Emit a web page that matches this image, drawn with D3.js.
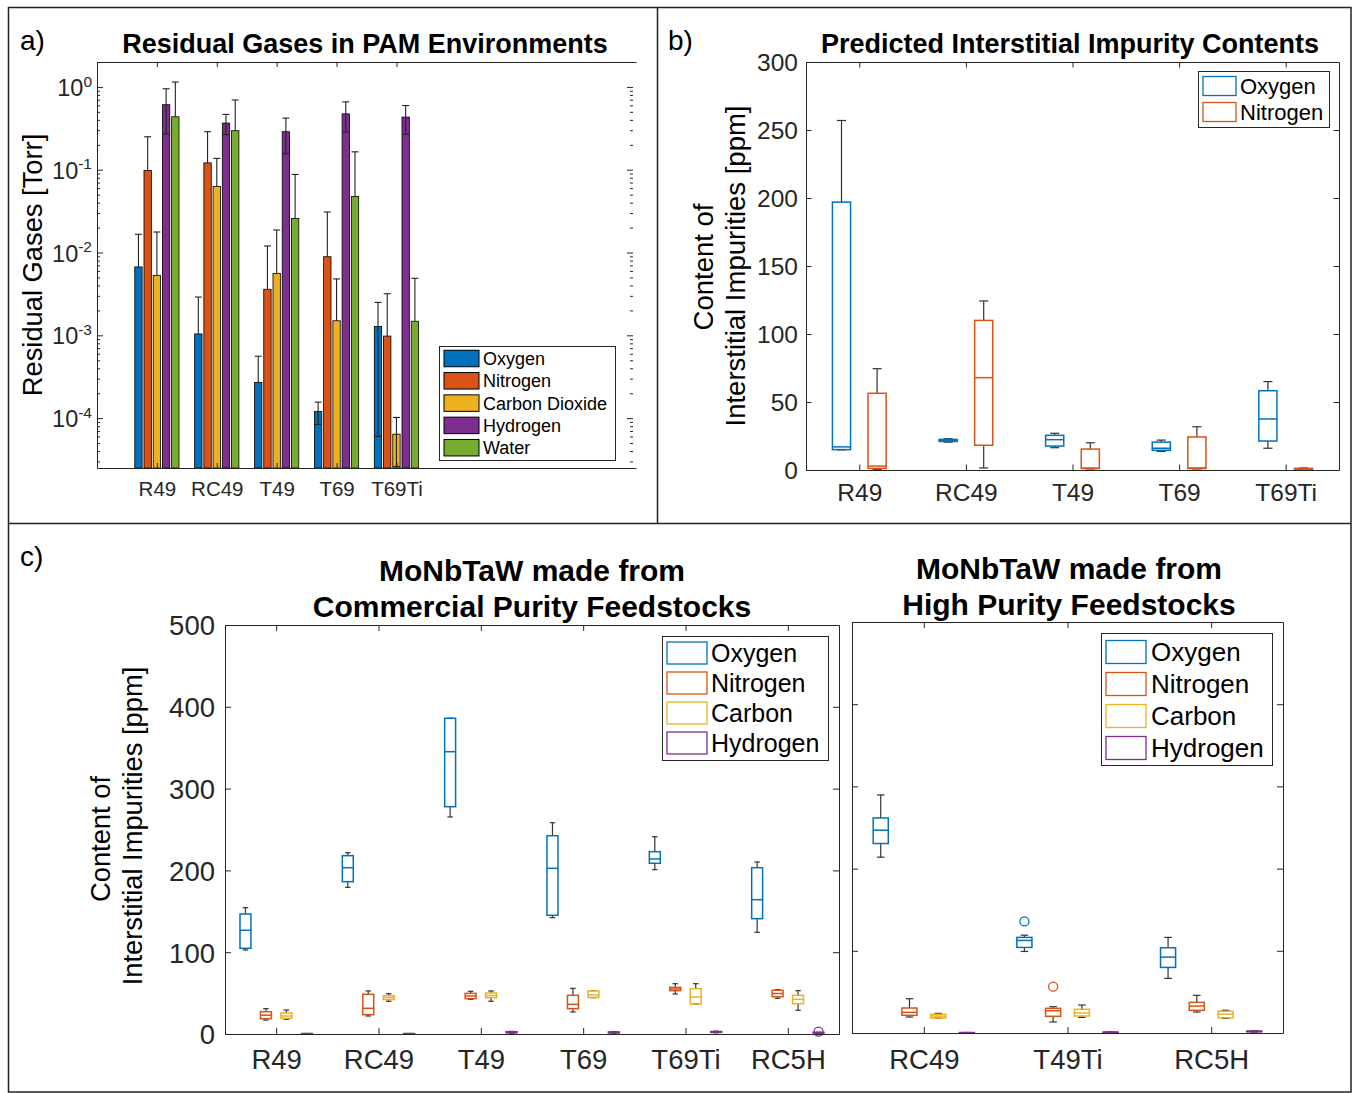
<!DOCTYPE html>
<html>
<head>
<meta charset="utf-8">
<script src="https://cdn.jsdelivr.net/npm/d3@7"></script>
<style>
  body { margin: 0; background: #fff; }
  svg { display: block; }
</style>
</head>
<body>
<svg id="fig" width="1356" height="1093"></svg>
<script>
// ---------- data: panel a (residual gases, Torr) ----------
var pamCategories = ["R49", "RC49", "T49", "T69", "T69Ti"];
var gasNames = ["Oxygen", "Nitrogen", "Carbon Dioxide", "Hydrogen", "Water"];
var gasOxygen   = [6.7e-3, 1.04e-3, 2.7e-4, 1.2e-4, 1.28e-3];
var gasNitrogen = [0.098, 0.121, 3.6e-3, 8.9e-3, 9.8e-4];
var gasCO2      = [5.3e-3, 0.063, 5.6e-3, 1.5e-3, 6.4e-5];
var gasHydrogen = [0.61, 0.366, 0.288, 0.473, 0.432];
var gasWater    = [0.436, 0.296, 0.0257, 0.0475, 1.48e-3];
var errOxygen   = [9.9e-3, 1.86e-3, 2.9e-4, 3.6e-5, 1.22e-3];
var errNitrogen = [0.152, 0.167, 8.4e-3, 0.022, 2.2e-3];
var errCO2      = [0.0124, 0.074, 0.0131, 3.3e-3, 3.8e-5];
var errHydrogen = [0.34, 0.10, 0.132, 0.187, 0.164];
var errWater    = [0.71, 0.40, 0.062, 0.117, 3.4e-3];

// ---------- data: panel b (predicted, ppm) [min, q1, median, q3, max] ----------
var predCategories = ["R49", "RC49", "T49", "T69", "T69Ti"];
var predNames = ["Oxygen", "Nitrogen"];
var predOxygen = [[14.8, 15, 17, 197, 257], [20.5, 21, 21.7, 22.5, 23], [16.4, 17.6, 22.3, 25.5, 27],
                  [13.7, 14.5, 16, 20.5, 22], [16, 21.3, 37.5, 58.3, 65]];
var predNitrogen = [[0.5, 1.2, 2.9, 56.4, 74.5], [1.5, 18.2, 67.9, 110, 124.3], [0.8, 1.1, 1.4, 15.4, 20],
                    [0.8, 1.1, 1.5, 24.3, 31.8], [0.3, 0.5, 0.8, 1.2, 1.5]];

// ---------- data: panel c (measured, ppm) [min, q1, median, q3, max] ----------
var elemNames = ["Oxygen", "Nitrogen", "Carbon", "Hydrogen"];
var commCategories = ["R49", "RC49", "T49", "T69", "T69Ti", "RC5H"];
var commOxygen = [[102.7, 104.8, 126.8, 146.7, 154.4], [179.3, 186.2, 203.3, 218, 221.6], [265.3, 277.9, 345.1, 386, 386],
                  [142.2, 145.1, 202.5, 242.4, 258.3], [200.9, 208.7, 214, 222.9, 241.2], [124.3, 141, 164.2, 203.3, 210.3]];
var commNitrogen = [[17, 18.7, 23, 27.3, 31], [22, 23.6, 31.4, 48.5, 52.6], [42.4, 43.2, 46.5, 49.7, 52.2],
                    [26.9, 31, 36.3, 47.3, 55.8], [48.9, 53, 55, 57, 61.5], [43.6, 45.6, 49.5, 53.4, 54.2]];
var commCarbon = [[18, 19.2, 22, 25.7, 29.3], [40, 42, 44.6, 46.8, 49.3], [40, 44.4, 47, 50.1, 52.6],
                  [44.4, 44.8, 47.7, 52.6, 53], [36.7, 36.7, 45.2, 55.4, 61.5], [29, 37, 42.4, 47.3, 53]];
var commHydrogen = [[0.2, 0.3, 0.4, 0.5, 0.6], [0.2, 0.3, 0.4, 0.5, 0.6], [1, 1.5, 2, 2.8, 3.2],
                    [1, 1.3, 1.8, 2.5, 3], [1.5, 2, 2.5, 3, 3.5], [1, 1.3, 1.6, 2, 2.2]];
var commHydrogenOut = [[6, 2.8]];

var highCategories = ["RC49", "T49Ti", "RC5H"];
var highOxygen = [[213.9, 230.5, 246.7, 261.6, 289.6], [99.2, 104.1, 112.6, 116.3, 119], [66.4, 79.8, 92.3, 103.7, 116.3]];
var highOxygenOut = [[2, 135.7]];
var highNitrogen = [[19.4, 21.5, 25.1, 30.4, 41.7], [13.4, 20.3, 27.1, 30, 32], [25.5, 27.6, 32.8, 37.3, 45.8]];
var highNitrogenOut = [[2, 56.3]];
var highCarbon = [[18.2, 18.2, 20.6, 22.7, 23.9], [19, 20.7, 24.3, 28.8, 34], [17.9, 18.6, 23, 26.4, 27.6]];
var highHydrogen = [[0.2, 0.3, 0.4, 0.5, 0.6], [0.5, 0.7, 0.9, 1.1, 1.3], [1.2, 1.5, 1.9, 2.3, 2.6]];

var predTicks = [0, 50, 100, 150, 200, 250, 300];
var commTicks = [0, 100, 200, 300, 400, 500];
var decadeTicks = [1e-4, 1e-3, 1e-2, 1e-1, 1];

// ---------- style ----------
var fontFamily = "'Liberation Sans', Arial, Helvetica, sans-serif";
var colors = ["#0072BD", "#D95319", "#EDB120", "#7E2F8E", "#77AC30"];
var axisColor = "#262626";

var svg = d3.select("#fig").attr("font-family", fontFamily);

function styleAxis(sel, fontSize) {
    sel.attr("font-family", fontFamily).attr("font-size", fontSize);
    sel.selectAll("path.domain").attr("stroke", axisColor).attr("stroke-width", 1);
    sel.selectAll(".tick line").attr("stroke", axisColor).attr("stroke-width", 1);
    sel.selectAll(".tick text").attr("fill", axisColor);
    return sel;
}

// common frame for the linear box plot axes
function drawLinearFrame(g, xs, ys, cats, yTicks, o) {
    var x0 = xs.range()[0], x1 = xs.range()[1];
    var y0 = ys.range()[0], y1 = ys.range()[1];
    var catVals = cats.map(function (c, i) { return i + 1; });

    var bottom = g.append("g").attr("transform", "translate(0," + y0 + ")")
        .call(d3.axisBottom(xs).tickValues(catVals).tickSizeInner(-o.tick).tickSizeOuter(0)
            .tickFormat(function (d) { return cats[d - 1]; }));
    styleAxis(bottom, o.font);
    bottom.selectAll(".tick text").attr("y", o.xLabelOffset).attr("dy", "0.36em");

    var top = g.append("g").attr("transform", "translate(0," + y1 + ")")
        .call(d3.axisTop(xs).tickValues(catVals).tickSizeInner(-o.tick).tickSizeOuter(0).tickFormat(""));
    styleAxis(top, o.font);

    var left = g.append("g").attr("transform", "translate(" + x0 + ",0)")
        .call(d3.axisLeft(ys).tickValues(yTicks).tickSizeInner(-o.tick).tickSizeOuter(0)
            .tickPadding(o.yPad).tickFormat(o.showY ? d3.format("d") : ""));
    styleAxis(left, o.font);
    left.selectAll(".tick text").attr("dy", "0.36em");

    var right = g.append("g").attr("transform", "translate(" + x1 + ",0)")
        .call(d3.axisRight(ys).tickValues(yTicks).tickSizeInner(-o.tick).tickSizeOuter(0).tickFormat(""));
    styleAxis(right, o.font);
}

function drawBoxSeries(g, xs, ys, stats, offset, widthUnits, color, outliers) {
    var w = widthUnits * (xs(1) - xs(0));
    var grp = g.append("g");
    var cx = function (d, i) { return xs(i + 1 + offset); };

    // whiskers and caps
    grp.selectAll("line.whi").data(stats).join("line").attr("class", "whi")
        .attr("x1", cx).attr("x2", cx)
        .attr("y1", function (d) { return ys(d[3]); })
        .attr("y2", function (d) { return ys(d[4]); });
    grp.selectAll("line.wlo").data(stats).join("line").attr("class", "wlo")
        .attr("x1", cx).attr("x2", cx)
        .attr("y1", function (d) { return ys(d[1]); })
        .attr("y2", function (d) { return ys(d[0]); });
    grp.selectAll("line.chi").data(stats).join("line").attr("class", "chi")
        .attr("x1", function (d, i) { return cx(d, i) - w / 4; })
        .attr("x2", function (d, i) { return cx(d, i) + w / 4; })
        .attr("y1", function (d) { return ys(d[4]); })
        .attr("y2", function (d) { return ys(d[4]); });
    grp.selectAll("line.clo").data(stats).join("line").attr("class", "clo")
        .attr("x1", function (d, i) { return cx(d, i) - w / 4; })
        .attr("x2", function (d, i) { return cx(d, i) + w / 4; })
        .attr("y1", function (d) { return ys(d[0]); })
        .attr("y2", function (d) { return ys(d[0]); });
    grp.selectAll("line").attr("stroke", "#333").attr("stroke-width", 1.2);

    // box
    grp.selectAll("rect").data(stats).join("rect")
        .attr("x", function (d, i) { return cx(d, i) - w / 2; })
        .attr("width", w)
        .attr("y", function (d) { return ys(d[3]); })
        .attr("height", function (d) { return Math.max(0.5, ys(d[1]) - ys(d[3])); })
        .attr("fill", "none").attr("stroke", color).attr("stroke-width", 1.5);

    // median
    grp.selectAll("line.med").data(stats).join("line").attr("class", "med")
        .attr("x1", function (d, i) { return cx(d, i) - w / 2; })
        .attr("x2", function (d, i) { return cx(d, i) + w / 2; })
        .attr("y1", function (d) { return ys(d[2]); })
        .attr("y2", function (d) { return ys(d[2]); })
        .attr("stroke", color).attr("stroke-width", 1.5);

    if (outliers) {
        grp.selectAll("circle").data(outliers).join("circle")
            .attr("cx", function (d) { return xs(d[0] + offset); })
            .attr("cy", function (d) { return ys(d[1]); })
            .attr("r", 4.5)
            .attr("fill", "none").attr("stroke", color).attr("stroke-width", 1.3);
    }
}

function drawLegend(g, o) {
    var lg = g.append("g");
    lg.append("rect").attr("x", o.x).attr("y", o.y).attr("width", o.w).attr("height", o.h)
        .attr("fill", "#fff").attr("stroke", axisColor).attr("stroke-width", 1);
    var items = lg.selectAll("g.item").data(o.names).join("g").attr("class", "item")
        .attr("transform", function (d, i) { return "translate(0," + (o.firstRow + i * o.rowStep) + ")"; });
    items.append("rect")
        .attr("x", o.swX).attr("y", -o.swH / 2).attr("width", o.swW).attr("height", o.swH)
        .attr("fill", function (d, i) { return o.filled ? colors[i] : "none"; })
        .attr("stroke", function (d, i) { return o.filled ? "#000" : colors[i]; })
        .attr("stroke-width", o.filled ? 1 : 1.3);
    items.append("text")
        .attr("x", o.textX).attr("dy", "0.36em")
        .attr("font-size", o.font).attr("fill", "#000")
        .text(function (d) { return d; });
}

function addText(g, txt, x, y, size, opts) {
    opts = opts || {};
    var t = g.append("text").attr("x", x).attr("y", y)
        .attr("font-size", size).attr("fill", "#000")
        .attr("text-anchor", opts.anchor || "middle")
        .attr("dy", "0.36em")
        .text(txt);
    if (opts.bold) t.attr("font-weight", "bold");
    if (opts.rotate) t.attr("transform", "rotate(-90," + x + "," + y + ")");
    return t;
}

// ---------- figure frame ----------
var frame = svg.append("g").attr("fill", "none").attr("stroke", "#222").attr("stroke-width", 1.5);
frame.append("rect").attr("x", 8.5).attr("y", 7.5).attr("width", 1342.5).attr("height", 1084.5);
frame.append("line").attr("x1", 657.5).attr("x2", 657.5).attr("y1", 7.5).attr("y2", 523.5);
frame.append("line").attr("x1", 8.5).attr("x2", 1351).attr("y1", 523.5).attr("y2", 523.5);

addText(svg, "a)", 20, 40, 28, { anchor: "start" });
addText(svg, "b)", 668, 40, 28, { anchor: "start" });
addText(svg, "c)", 20, 556, 28, { anchor: "start" });

// ---------- panel a ----------
var gA = svg.append("g");
var xA = d3.scaleLinear().domain([0, 9]).range([97, 636]);
var yA = d3.scaleLog().domain([2.5e-5, 2]).range([468, 62]);
var barOffsets = [-0.308, -0.154, 0, 0.154, 0.308];
var barWidth = 0.123;
var gasValues = [gasOxygen, gasNitrogen, gasCO2, gasHydrogen, gasWater];
var gasErrors = [errOxygen, errNitrogen, errCO2, errHydrogen, errWater];
var gasSeries = gasNames.map(function (n, k) {
    return gasValues[k].map(function (v, i) {
        return { i: i, v: v, e: gasErrors[k][i], k: k };
    });
});

gasSeries.forEach(function (s, k) {
    gA.append("g").selectAll("rect").data(s).join("rect")
        .attr("x", function (d) { return xA(d.i + 1 + barOffsets[k] - barWidth / 2); })
        .attr("width", xA(barWidth) - xA(0))
        .attr("y", function (d) { return yA(d.v); })
        .attr("height", function (d) { return yA.range()[0] - yA(d.v); })
        .attr("fill", colors[k]).attr("stroke", "#000").attr("stroke-width", 0.8);
});

var errG = gA.append("g").attr("stroke", "#222").attr("stroke-width", 1.1);
gasSeries.forEach(function (s, k) {
    s.forEach(function (d) {
        var cx = xA(d.i + 1 + barOffsets[k]);
        var lo = d.v - d.e;
        var yTop = yA(d.v + d.e);
        var yBot = lo > 0 ? yA(Math.max(lo, yA.domain()[0])) : yA(d.v);
        errG.append("line").attr("x1", cx).attr("x2", cx).attr("y1", yTop).attr("y2", yBot);
        errG.append("line").attr("x1", cx - 3.5).attr("x2", cx + 3.5).attr("y1", yTop).attr("y2", yTop);
        if (lo > yA.domain()[0]) {
            errG.append("line").attr("x1", cx - 3.5).attr("x2", cx + 3.5).attr("y1", yBot).attr("y2", yBot);
        }
    });
});

var catA = pamCategories.map(function (c, i) { return i + 1; });
var axBA = gA.append("g").attr("transform", "translate(0,468)")
    .call(d3.axisBottom(xA).tickValues(catA).tickSizeInner(-5).tickSizeOuter(0)
        .tickFormat(function (d) { return pamCategories[d - 1]; }));
styleAxis(axBA, 20.5);
axBA.selectAll(".tick text").attr("y", 21).attr("dy", "0.36em");

var axTA = gA.append("g").attr("transform", "translate(0,62)")
    .call(d3.axisTop(xA).tickValues(catA).tickSizeInner(-5).tickSizeOuter(0).tickFormat(""));
styleAxis(axTA, 20);

var minorA = yA.ticks().filter(function (v) {
    return decadeTicks.indexOf(v) < 0 && Math.abs(Math.log10(v) - Math.round(Math.log10(v))) > 1e-6;
});

var axLA = gA.append("g").attr("transform", "translate(97,0)")
    .call(d3.axisLeft(yA).tickValues(decadeTicks).tickSizeInner(-6).tickSizeOuter(0).tickPadding(5)
        .tickFormat(function () { return ""; }));
styleAxis(axLA, 23.5);
axLA.selectAll(".tick text").each(function (d) {
    var t = d3.select(this).attr("dy", "0.36em");
    t.append("tspan").text("10");
    t.append("tspan").attr("dy", "-0.6em").attr("font-size", "0.66em").text(Math.round(Math.log10(d)));
});
var axLAm = gA.append("g").attr("transform", "translate(97,0)")
    .call(d3.axisLeft(yA).tickValues(minorA).tickSizeInner(-3).tickSizeOuter(0).tickFormat(""));
styleAxis(axLAm, 20);
axLAm.select("path.domain").remove();

var axRA = gA.append("g").attr("transform", "translate(633,0)")
    .call(d3.axisRight(yA).tickValues(decadeTicks).tickSizeInner(-6).tickSizeOuter(0).tickFormat(""));
styleAxis(axRA, 20);
axRA.select("path.domain").remove();
var axRAm = gA.append("g").attr("transform", "translate(633,0)")
    .call(d3.axisRight(yA).tickValues(minorA).tickSizeInner(-3).tickSizeOuter(0).tickFormat(""));
styleAxis(axRAm, 20);
axRAm.select("path.domain").remove();

addText(gA, "Residual Gases in PAM Environments", 365, 43, 27, { bold: true });
addText(gA, "Residual Gases [Torr]", 32, 265, 27.3, { rotate: true });

drawLegend(gA, {
    x: 439.5, y: 346.5, w: 176, h: 114, names: gasNames, firstRow: 358.5, rowStep: 22.3,
    swX: 444, swW: 35, swH: 16.5, textX: 483, font: 18, filled: true
});

// ---------- panel b ----------
var gB = svg.append("g");
var xB = d3.scaleLinear().domain([0.5, 5.5]).range([806, 1339]);
var yB = d3.scaleLinear().domain([0, 300]).range([470, 62]);
drawBoxSeries(gB, xB, yB, predOxygen, -0.167, 0.17, colors[0]);
drawBoxSeries(gB, xB, yB, predNitrogen, 0.167, 0.17, colors[1]);
drawLinearFrame(gB, xB, yB, predCategories, predTicks,
    { tick: 5.5, font: 24.5, xLabelOffset: 22, yPad: 8, showY: true });

addText(gB, "Predicted Interstitial Impurity Contents", 1070, 43, 27, { bold: true });
addText(gB, "Content of", 703, 267, 27.5, { rotate: true });
addText(gB, "Interstitial Impurities [ppm]", 735, 266, 27.5, { rotate: true });
drawLegend(gB, {
    x: 1198.5, y: 71.5, w: 131, h: 56, names: predNames, firstRow: 86, rowStep: 26,
    swX: 1203, swW: 33, swH: 19, textX: 1240, font: 22, filled: false
});

// ---------- panel c, commercial purity ----------
var gC = svg.append("g");
var xC = d3.scaleLinear().domain([0.5, 6.5]).range([225, 839]);
var yC = d3.scaleLinear().domain([0, 500]).range([1034, 625]);
var elemOffsets = [-0.3, -0.1, 0.1, 0.3];
var commData = [commOxygen, commNitrogen, commCarbon, commHydrogen];
commData.forEach(function (s, k) {
    drawBoxSeries(gC, xC, yC, s, elemOffsets[k], 0.107, colors[k], k === 3 ? commHydrogenOut : null);
});
drawLinearFrame(gC, xC, yC, commCategories, commTicks,
    { tick: 6, font: 27.5, xLabelOffset: 25, yPad: 10, showY: true });

addText(gC, "MoNbTaW made from", 532, 570, 30, { bold: true });
addText(gC, "Commercial Purity Feedstocks", 532, 606, 30, { bold: true });
addText(gC, "Content of", 100, 839, 27.3, { rotate: true });
addText(gC, "Interstitial Impurities [ppm]", 132, 826, 27.3, { rotate: true });
drawLegend(gC, {
    x: 662.5, y: 636.5, w: 166, h: 124, names: elemNames, firstRow: 653, rowStep: 30,
    swX: 667, swW: 40, swH: 22, textX: 711, font: 25, filled: false
});

// ---------- panel c, high purity ----------
var gD = svg.append("g");
var xD = d3.scaleLinear().domain([0.5, 3.5]).range([852, 1283]);
var yD = d3.scaleLinear().domain([0, 500]).range([1033, 622]);
var highData = [highOxygen, highNitrogen, highCarbon, highHydrogen];
var highOut = [highOxygenOut, highNitrogenOut, null, null];
highData.forEach(function (s, k) {
    drawBoxSeries(gD, xD, yD, s, elemOffsets[k], 0.105, colors[k], highOut[k]);
});
drawLinearFrame(gD, xD, yD, highCategories, commTicks,
    { tick: 6, font: 27.5, xLabelOffset: 26, yPad: 10, showY: false });

addText(gD, "MoNbTaW made from", 1069, 568, 30, { bold: true });
addText(gD, "High Purity Feedstocks", 1069, 604, 30, { bold: true });
drawLegend(gD, {
    x: 1101.5, y: 633.5, w: 171, h: 132, names: elemNames, firstRow: 652, rowStep: 32,
    swX: 1106, swW: 40, swH: 23, textX: 1151, font: 26, filled: false
});
</script>
</body>
</html>
